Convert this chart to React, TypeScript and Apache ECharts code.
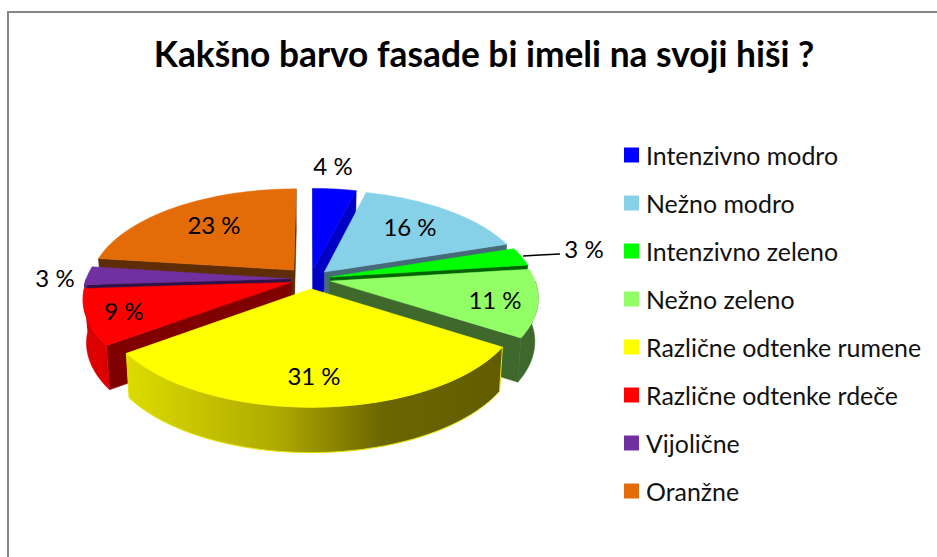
import React, { useEffect, useRef } from "react";
import * as echarts from "echarts";

const titleText = "Kakšno barvo fasade bi imeli na svoji hiši ?";
const categories = [
  "Intenzivno modro",
  "Nežno modro",
  "Intenzivno zeleno",
  "Nežno zeleno",
  "Različne odtenke rumene",
  "Različne odtenke rdeče",
  "Vijolične",
  "Oranžne",
];
const values = [4, 16, 3, 11, 31, 9, 3, 23];
const topColors = ["#0000ff", "#87d1e8", "#00ff00", "#92ff66", "#ffff00", "#ff0000", "#7030a0", "#e36c09"];
const wallColors = ["#0000c4", "#466a78", "#006400", "#3f682c", "#7a7400", "#800000", "#2e1348", "#5e2d05"];
const outerColors = ["#0000c4", "#466a78", "#006400", "#3f682c", "#b0aa00", "#dc0000", "#5c2785", "#a84f06"];
const drawOrder = [1, 2, 3, 4, 8, 6, 5, 0];
const explodes = [0.1, 0.1, 0.1, 0.1, 0.1, 0.1, 0.1, 0.125];

// Layout of the perspective pie
const CX = 310.5, CY = 279, RX = 204, RY = 96.5, PERSP = 0.156, DEPTH = 43, DEPTH_POW = 0.3, BOTTOM_SCALE = 0.985;
const labelAnchors: [number, number][] = [
  [333, 165], [410, 226], [584, 248], [495, 299], [314, 375], [124, 310], [55, 277], [214, 224],
];
const labelFont = "24px Lato";
const leader: [number, number][] = [[523, 256], [540, 255], [560, 254]];

const rad = (pct: number) => (pct / 100) * Math.PI * 2;

function project(X: number, Z: number, lower: boolean): [number, number] {
  const w = 1 + PERSP * Z;
  const x = (X * RX) / w;
  const y = (-Z * RY) / w;
  if (!lower) return [CX + x, CY + y];
  return [CX + x * BOTTOM_SCALE, CY + y + DEPTH / Math.pow(w, DEPTH_POW)];
}

function makeRenderItem(i: number) {
  return (_params: any, api: any) => {
    const start = values.slice(0, i).reduce((a, b) => a + b, 0);
    const sweep = api.value(0) as number;
    const t0 = rad(start);
    const t1 = rad(start + sweep);
    const tm = (t0 + t1) / 2;
    const ox = explodes[i] * Math.sin(tm);
    const oz = explodes[i] * Math.cos(tm);
    const pt = (t: number, lower: boolean) => project(ox + Math.sin(t), oz + Math.cos(t), lower);
    const apexT = project(ox, oz, false);
    const apexB = project(ox, oz, true);
    const arc = (a: number, b: number, lower: boolean) => {
      const n = Math.max(2, Math.ceil(((b - a) * 180) / Math.PI / 2));
      const out: [number, number][] = [];
      for (let k = 0; k <= n; k++) out.push(pt(a + ((b - a) * k) / n, lower));
      return out;
    };
    const children: any[] = [];
    const poly = (points: number[][], fill: any, stroke?: any) => ({
      type: "polygon",
      shape: { points },
      style: { fill, stroke: stroke ?? fill, lineWidth: stroke ? 1 : 0.5 },
    });
    const ps = pt(t0, false);
    const pe = pt(t1, false);
    if (ps[0] < apexT[0]) {
      children.push(poly([apexT, ps, pt(t0, true), apexB], wallColors[i]));
    }
    if (pe[0] > apexT[0]) {
      children.push(poly([apexT, pe, pt(t1, true), apexB], wallColors[i]));
    }
    const a = Math.max(t0, Math.PI / 2);
    const b = Math.min(t1, (Math.PI * 3) / 2);
    if (b > a) {
      const topArc = arc(a, b, false);
      const lowArc = arc(a, b, true).reverse();
      let fill: any = outerColors[i];
      let stroke: any = undefined;
      if (i === 4) {
        fill = new echarts.graphic.LinearGradient(0, 0, 1, 0, [
          { offset: 0, color: "#dcdc00" },
          { offset: 0.4, color: "#b0aa00" },
          { offset: 0.68, color: "#6c6600" },
          { offset: 1, color: "#625c00" },
        ]);
        stroke = "#e6e600";
      }
      children.push(poly([...topArc, ...lowArc], fill, stroke));
    }
    children.push(poly([apexT, ...arc(t0, t1, false)], topColors[i]));
    if (i === 2) {
      children.push({
        type: "polyline",
        shape: { points: leader },
        style: { stroke: "#000", lineWidth: 1.5, fill: "none" },
      });
    }
    children.push({
      type: "text",
      style: {
        text: `${sweep} %`,
        x: labelAnchors[i][0],
        y: labelAnchors[i][1],
        font: labelFont,
        fill: "#000",
        align: "center",
        verticalAlign: "middle",
      },
    });
    return { type: "group", children };
  };
}

export default function App() {
  const ref = useRef<HTMLDivElement>(null);
  useEffect(() => {
    const chart = echarts.init(ref.current!, undefined, { renderer: "svg" });
    chart.setOption({
      animation: false,
      backgroundColor: "#fff",
      title: {
        text: titleText,
        left: 479,
        top: 31,
        textAlign: "center",
        textStyle: { fontFamily: "Lato", fontWeight: "bold", fontSize: 35.3, color: "#000" },
      },
      legend: {
        orient: "vertical",
        left: 619,
        top: 137,
        data: categories,
        icon: "rect",
        itemWidth: 15,
        itemHeight: 15,
        itemGap: 22,
        selectedMode: false,
        textStyle: { fontFamily: "Lato", fontSize: 24.9, color: "#111", padding: [0, 0, 0, 2], lineHeight: 26 },
        formatter: (n: string) => n,
      },
      graphic: [
        {
          type: "rect",
          shape: { x: 8, y: 12, width: 960, height: 600 },
          style: { fill: "none", stroke: "#868686", lineWidth: 2 },
          silent: true,
        },
      ],
      series: categories.map((name, i) => ({
        type: "custom",
        name,
        coordinateSystem: "none",
        z: 2 + drawOrder[i],
        silent: true,
        itemStyle: { color: topColors[i] },
        data: [values[i]],
        renderItem: makeRenderItem(i),
      })),
    });
    return () => chart.dispose();
  }, []);
  return <div ref={ref} style={{ position: "absolute", left: 0, top: 0, width: 937, height: 557 }} />;
}
